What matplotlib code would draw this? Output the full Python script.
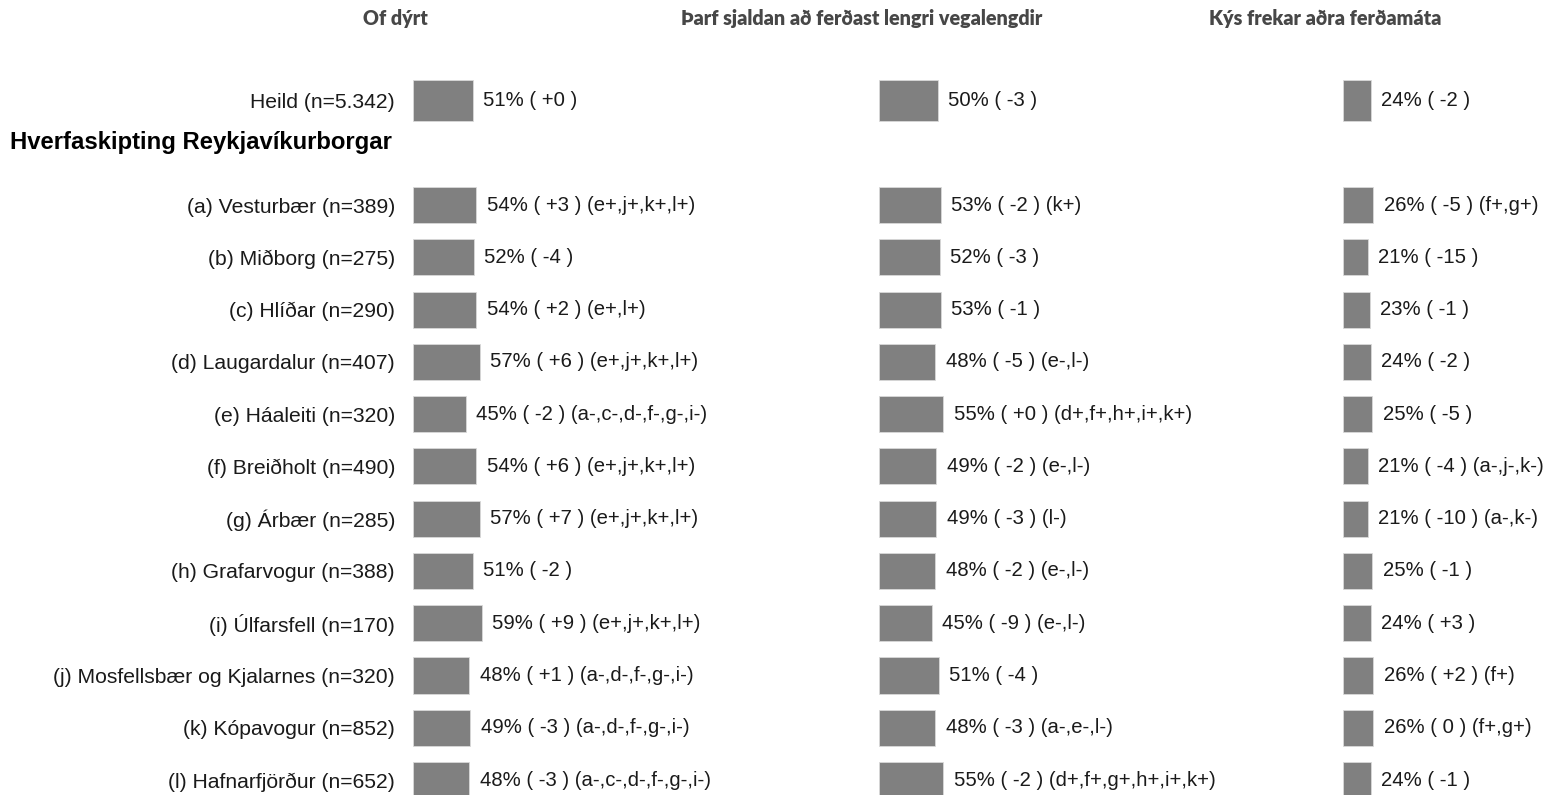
import matplotlib
matplotlib.use("Agg")
import matplotlib.pyplot as plt
from matplotlib.transforms import blended_transform_factory

# data
categories = ["Heild (n=5.342)", "(a) Vesturbær (n=389)", "(b) Miðborg (n=275)", "(c) Hlíðar (n=290)",
              "(d) Laugardalur (n=407)", "(e) Háaleiti (n=320)", "(f) Breiðholt (n=490)",
              "(g) Árbær (n=285)", "(h) Grafarvogur (n=388)", "(i) Úlfarsfell (n=170)",
              "(j) Mosfellsbær og Kjalarnes (n=320)", "(k) Kópavogur (n=852)", "(l) Hafnarfjörður (n=652)"]
group_title = "Hverfaskipting Reykjavíkurborgar"
titles = ["Of dýrt", "Þarf sjaldan að ferðast lengri vegalengdir", "Kýs frekar aðra ferðamáta"]

vals_1 = [51, 54, 52, 54, 57, 45, 54, 57, 51, 59, 48, 49, 48]
chg_1 = ["+0", "+3", "-4", "+2", "+6", "-2", "+6", "+7", "-2", "+9", "+1", "-3", "-3"]
sig_1 = ["", "e+,j+,k+,l+", "", "e+,l+", "e+,j+,k+,l+", "a-,c-,d-,f-,g-,i-", "e+,j+,k+,l+",
         "e+,j+,k+,l+", "", "e+,j+,k+,l+", "a-,d-,f-,g-,i-", "a-,d-,f-,g-,i-", "a-,c-,d-,f-,g-,i-"]

vals_2 = [50, 53, 52, 53, 48, 55, 49, 49, 48, 45, 51, 48, 55]
chg_2 = ["-3", "-2", "-3", "-1", "-5", "+0", "-2", "-3", "-2", "-9", "-4", "-3", "-2"]
sig_2 = ["", "k+", "", "", "e-,l-", "d+,f+,h+,i+,k+", "e-,l-", "l-", "e-,l-", "e-,l-", "",
         "a-,e-,l-", "d+,f+,g+,h+,i+,k+"]

vals_3 = [24, 26, 21, 23, 24, 25, 21, 21, 25, 24, 26, 26, 24]
chg_3 = ["-2", "-5", "-15", "-1", "-2", "-5", "-4", "-10", "-1", "+3", "+2", "0", "-1"]
sig_3 = ["", "f+,g+", "", "", "", "", "a-,j-,k-", "a-,k-", "", "", "f+", "f+,g+", ""]

panels = [(vals_1, chg_1, sig_1), (vals_2, chg_2, sig_2), (vals_3, chg_3, sig_3)]

plt.rcParams['font.family'] = ['Liberation Sans', 'DejaVu Sans']

W, H = 1544, 795
fig = plt.figure(figsize=(W / 100, H / 100), dpi=100)

px_per_pct = 1.17
row_px = 52.27
first_row_px = 100.5
origins = [413, 879, 1343]
widths = [460, 460, 195]

# rader: Heild op 0, wijken vanaf 2
ypos = [0] + list(range(2, 2 + len(categories) - 1))
y_top = -first_row_px / row_px
y_bot = (H - first_row_px) / row_px

axes = []
for i, (vals, chg, sig) in enumerate(panels):
    ax = fig.add_axes([origins[i] / W, 0, widths[i] / W, 1])
    ax.set_xlim(0, widths[i] / px_per_pct)
    ax.set_ylim(y_bot, y_top)
    heights = [0.77] + [0.69] * (len(vals) - 1)
    ax.barh(ypos, vals, height=heights, color="#808080", edgecolor="#d9d9d9", linewidth=0.6)
    for y, v, c, s in zip(ypos, vals, chg, sig):
        label = f"{v}% ( {c} )"
        if s:
            label += f" ({s})"
        ax.annotate(label, xy=(v, y), xytext=(7.5, 0), textcoords="offset points",
                    va="center", ha="left", fontsize=14.6, color="#1a1a1a")
    ax.annotate(titles[i], xy=(0, 1), xycoords="axes fraction", xytext=(-12.5, -13.5),
                textcoords="offset points", ha="center", va="center", fontsize=14.2,
                fontweight="heavy", color="#474747", family=["Lato", "DejaVu Sans"])
    for sp in ax.spines.values():
        sp.set_visible(False)
    ax.set_xticks([])
    if i == 0:
        ax.set_yticks(ypos, categories, fontsize=15.2, color="#1a1a1a")
        ax.tick_params(axis="y", length=0, pad=13)
    else:
        ax.set_yticks([])
    axes.append(ax)

trans = blended_transform_factory(fig.transFigure, axes[0].transData)
axes[0].text(10 / W, 0.81, group_title, transform=trans, ha="left", va="center",
             fontsize=17.2, fontweight="bold", color="black")

fig.savefig("out.png", dpi=100)
